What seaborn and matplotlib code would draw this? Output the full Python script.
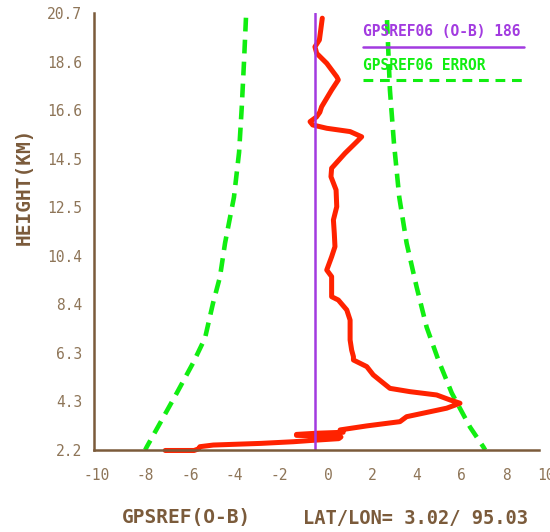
import numpy as np
import matplotlib
matplotlib.use("Agg")
import matplotlib.pyplot as plt
import matplotlib.transforms as mtransforms
from matplotlib.lines import Line2D
import seaborn as sns

# GPSREF06 O-B profile, read top to bottom (height in km)
height = [20.48, 19.98, 19.56, 19.27, 18.99, 18.57, 18.0, 17.87, 17.44, 16.73,
          16.5, 16.3, 16.1, 15.96, 15.82, 15.68, 15.46, 15.25, 14.76, 14.13,
          13.77, 13.21, 12.5, 11.94, 11.37, 10.81, 10.38, 9.82, 9.54, 9.11,
          8.69, 8.55, 8.13, 7.70, 7.28, 6.86, 6.43, 6.15, 6.01, 5.73,
          5.38, 5.09, 4.81, 4.67, 4.53, 4.32, 4.18, 3.97, 3.82, 3.61,
          3.40, 3.22, 3.05, 2.95, 2.91, 2.86, 2.82, 2.80, 2.75, 2.68,
          2.62, 2.55, 2.48, 2.41, 2.34, 2.25, 2.18, 2.18]
omb = [0.26, 0.19, 0.13, -0.07, 0.01, 0.46, 0.91, 0.98, 0.68, 0.23,
       0.15, 0.0, -0.29, -0.17, 0.46, 1.51, 2.03, 1.81, 1.28, 0.68,
       0.65, 0.88, 0.91, 0.76, 0.80, 0.83, 0.68, 0.46, 0.68, 0.68,
       0.68, 0.98, 1.36, 1.51, 1.51, 1.51, 1.58, 1.66, 1.66, 2.26,
       2.55, 2.93, 3.30, 4.20, 5.40, 6.00, 6.45, 5.85, 5.10, 4.05,
       3.75, 2.26, 1.06, 1.2, 0.01, -0.9, -0.9, 0.0, 1.1, 1.0,
       0.01, -1.04, -2.5, -4.64, -5.24, -5.3, -5.5, -6.8]

# error envelope (dashed green)
err_h_left = [20.5, 18.6, 16.7, 14.8, 12.9, 10.96, 9.52, 8.42, 6.94, 5.88, 4.61, 3.34, 2.33, 2.2]
err_left = [-3.17, -3.26, -3.36, -3.48, -3.71, -4.11, -4.34, -4.65, -5.01, -5.55, -6.28, -7.03, -7.63, -7.7]
err_h_right = [20.4, 17.44, 15.2, 12.9, 10.96, 9.1, 7.4, 6.0, 4.61, 3.17, 2.33, 2.2]
err_right = [3.17, 3.30, 3.48, 3.72, 4.05, 4.50, 4.95, 5.48, 6.08, 6.90, 7.50, 7.58]

mean_omb = -0.05
n_obs = 186
lat, lon = 3.02, 95.03

x_ticks = [-10, -8, -6, -4, -2, 0, 2, 4, 6, 8, 10]
y_tick_labels = ["2.2", "4.3", "6.3", "8.4", "10.4", "12.5", "14.5", "16.6", "18.6", "20.7"]

BROWN = "#7b5b3b"
TICK_BROWN = "#8e7558"
RED = "#ff2200"
GREEN = "#11ee11"
PURPLE = "#a23be0"
MONO = "DejaVu Sans Mono"

sns.set_style("white")
plt.rcParams["font.family"] = [MONO, "DejaVu Sans"]

fig = plt.figure(figsize=(5.5, 5.32), dpi=100)
ax = fig.add_axes([94 / 550, 82 / 532, 445 / 550, 437 / 532])

sns.lineplot(x=err_left, y=err_h_left, sort=False, estimator=None, ax=ax,
             color=GREEN, linewidth=3.3, linestyle=(0, (3.0, 1.8)))
sns.lineplot(x=err_right, y=err_h_right, sort=False, estimator=None, ax=ax,
             color=GREEN, linewidth=3.3, linestyle=(0, (3.0, 1.8)))
sns.lineplot(x=omb, y=height, sort=False, estimator=None, ax=ax,
             color=RED, linewidth=3.6, clip_on=False, solid_joinstyle="round")
ax.axvline(mean_omb, color=PURPLE, linewidth=1.8)

ax.set_xlim(-10, 10)
ax.set_ylim(2.2, 20.7)

for side in ["top", "right"]:
    ax.spines[side].set_visible(False)
for side in ["left", "bottom"]:
    ax.spines[side].set_color(BROWN)
    ax.spines[side].set_linewidth(1.8)
    ax.spines[side].set_zorder(5)

ax.set_xticks(x_ticks)
ax.set_xticklabels([str(v) for v in x_ticks])
ax.set_xticks(np.arange(-10, 10.01, 0.4), minor=True)
ax.set_yticks(np.linspace(2.2, 20.7, 10))
ax.set_yticklabels(y_tick_labels)

ax.tick_params(axis="x", which="major", direction="in", length=6, width=1.5,
               color=BROWN, pad=13, labelsize=10.5, labelcolor=TICK_BROWN)
ax.tick_params(axis="x", which="minor", direction="in", length=3.5, width=1.5,
               color=BROWN)
ax.tick_params(axis="y", which="major", direction="in", length=5, width=1.5,
               color=BROWN, pad=8.5, labelsize=10.5, labelcolor=TICK_BROWN)
ax.set_xlabel("")
ax.set_ylabel("")

shift = mtransforms.ScaledTranslation(16 / 100, 0, fig.dpi_scale_trans)
for lab in ax.get_xticklabels():
    lab.set_horizontalalignment("right")
    lab.set_transform(lab.get_transform() + shift)

# axis titles
fig.text(24 / 550, 1 - 186 / 532, "HEIGHT(KM)", rotation=90, ha="center", va="center",
         fontsize=14, fontweight="bold", color=BROWN)
fig.text(122 / 550, 1 - 518 / 532, "GPSREF(O-B)", ha="left", va="center",
         fontsize=14, fontweight="bold", color=BROWN)
fig.text(303 / 550, 1 - 518 / 532, f"LAT/LON= {lat:.2f}/ {lon:.2f}", ha="left", va="center",
         fontsize=13.5, fontweight="bold", color=BROWN)

# legend
fig.text(363 / 550, 1 - 32 / 532, f"GPSREF06 (O-B) {n_obs}", ha="left", va="center",
         fontsize=10.5, fontweight="bold", color=PURPLE)
fig.add_artist(Line2D([363 / 550, 524 / 550], [1 - 47 / 532] * 2, color=PURPLE, linewidth=1.8))
fig.text(363 / 550, 1 - 66 / 532, "GPSREF06 ERROR", ha="left", va="center",
         fontsize=10.5, fontweight="bold", color=GREEN)
fig.add_artist(Line2D([363 / 550, 522 / 550], [1 - 80 / 532] * 2, color=GREEN, linewidth=2.2,
                      linestyle=(0, (3.2, 2.2))))

fig.savefig("out.png", dpi=100)
